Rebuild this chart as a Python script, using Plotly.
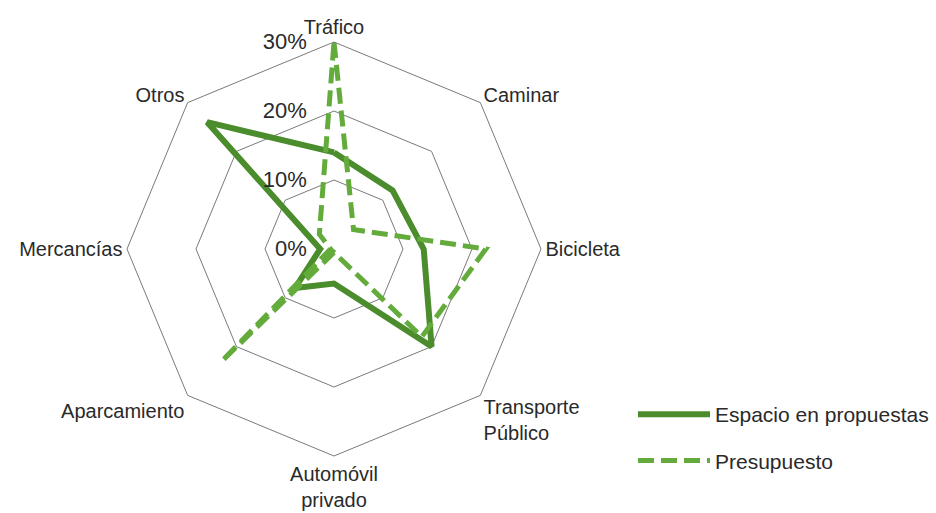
import plotly.graph_objects as go

categories = ["Tráfico", "Caminar", "Bicicleta", "Transporte<br>Público",
              "Automóvil<br>privado", "Aparcamiento", "Mercancías", "Otros"]
espacio = [14, 12, 13, 20, 5, 8, 2, 26]
presupuesto = [30, 4, 22, 18, 0.5, 23, 0.5, 3]
radial_ticks = [0, 10, 20, 30]
radial_labels = ["0%", "10%", "20%", "30%"]

theta = categories + [categories[0]]

fig = go.Figure()
fig.add_trace(go.Scatterpolar(
    r=espacio + [espacio[0]], theta=theta, mode="lines",
    name="Espacio en propuestas", legendgroup="a",
    line=dict(color="#4b8c2c", width=6)))
fig.add_trace(go.Scatterpolar(
    r=presupuesto + [presupuesto[0]], theta=theta, mode="lines",
    name="Presupuesto", legendgroup="b",
    line=dict(color="#63ab3b", width=5, dash="16px,7px")))

font_family = "Liberation Sans, Arial, sans-serif"
fig.update_layout(
    width=936, height=513,
    margin=dict(l=0, r=0, t=0, b=0),
    paper_bgcolor="white",
    font=dict(family=font_family, color="#2a2a2a"),
    polar=dict(
        domain=dict(x=[127/936, 541/936], y=[1-456/513, 1-42/513]),
        bgcolor="white",
        gridshape="linear",
        radialaxis=dict(
            range=[0, 30], tickvals=radial_ticks, ticktext=radial_labels,
            angle=90, tickangle=90, showline=False,
            gridcolor="#7a7a7a", gridwidth=1,
            ticks="outside", ticklen=19, tickcolor="rgba(0,0,0,0)",
            tickfont=dict(size=22, color="#2a2a2a"), side="counterclockwise"),
        angularaxis=dict(
            direction="clockwise", rotation=90,
            showline=True, linecolor="#7a7a7a", linewidth=1,
            showgrid=False, ticks="",
            tickfont=dict(size=20, color="#2a2a2a")),
    ),
    showlegend=True,
    legend=dict(
        x=633/936, y=1-394/513, xanchor="left", yanchor="top",
        itemwidth=72, tracegroupgap=16,
        font=dict(size=21, color="#2a2a2a"),
        bgcolor="rgba(0,0,0,0)"),
)

fig.write_html("out.html")
